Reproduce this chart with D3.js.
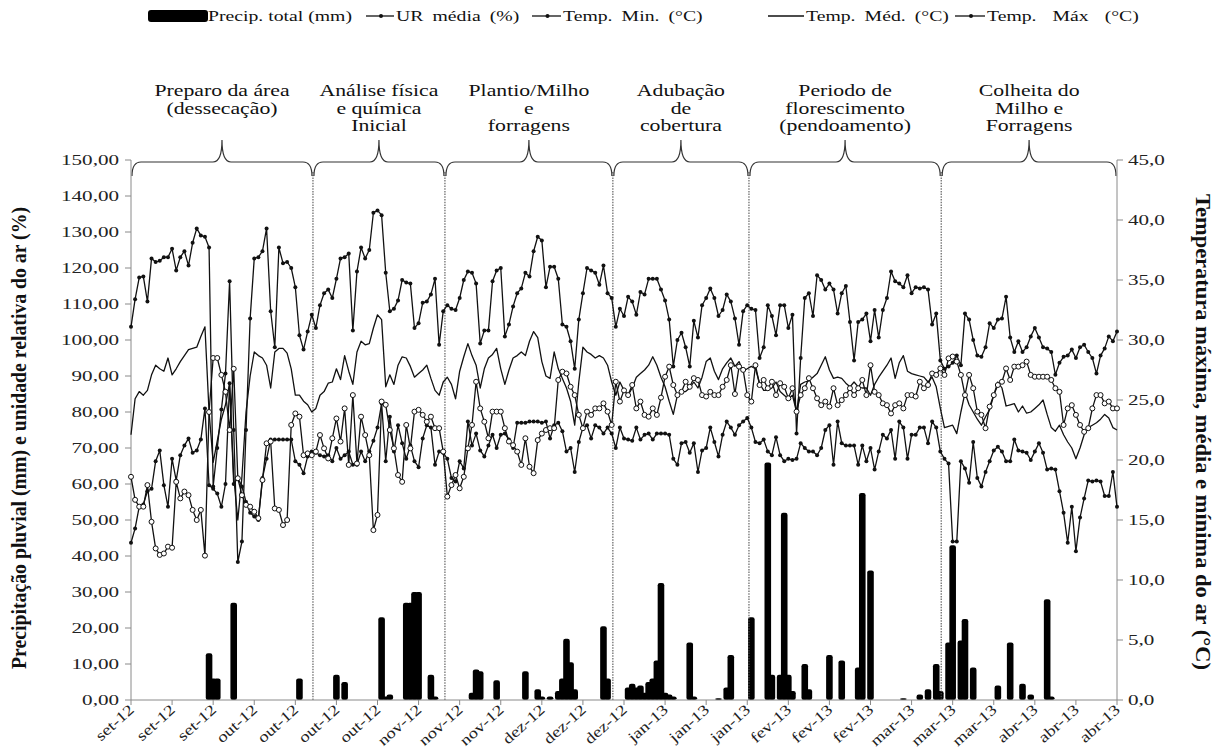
<!DOCTYPE html>
<html><head><meta charset="utf-8">
<script src="https://cdn.jsdelivr.net/npm/d3@7"></script>
<style>body{margin:0;background:#fff}svg{display:block}</style>
</head><body>
<svg id="chart" width="1220" height="751"></svg>
<script>
// ---------------- DATA ----------------
const startDate = "2012-09-01";
const nDays = 241;
const xTickLabels = ["set-12","set-12","set-12","out-12","out-12","out-12","out-12","nov-12","nov-12","nov-12",
  "dez-12","dez-12","dez-12","jan-13","jan-13","jan-13","fev-13","fev-13","fev-13","mar-13","mar-13","mar-13",
  "abr-13","abr-13","abr-13"];
const leftTicks = [0,10,20,30,40,50,60,70,80,90,100,110,120,130,140,150];
const rightTicks = [0,5,10,15,20,25,30,35,40,45];

const precip = [
0,0,0,0,0,0,0,0,0,0, 0,0,0,0,0,0,0,0,0,13, 6,6,0,0,0,27,0,0,0,0, 0,0,0,0,0,0,0,0,0,0,
0,6,0,0,0,0,0,0,0,0, 7,0,5,0,0,0,0,0,0,0, 0,23,1,1.5,0,0,0,27,27,30, 30,0,0,7,1,0,0,0,0,0,
0,0,0,2,8.5,8,0,0,0,5.5, 0,0,0,0,0,0,8,0,0,3, 1,0,1,0,2.5,6,17,10.5,3,0, 0,0,0,0,0,20.5,6,0,0,0,
0,3.5,4.5,3.5,4,2,5,6,11,32.5, 2,1.5,1,0,0,0,16,1,0,0, 0,0,0,0.5,0,3.5,12.5,0,0,0, 0,23,0,0,0,66,7,0,7,52,
7,2.5,0,0,10,3,0,0,0,0, 12.5,0,0,11,0,0,0,9,57.5,0, 36,0,0,0,0,0,0,0,0.5,0, 0,0,1.5,0,3,0,10,2.5,0,16,
43,0,16.5,22.5,0,9,0,0,0,0, 0,4,0,0,16,0,0,4.5,0,1.5, 0,0,0,28,1,0,0,0,0,0, 0,0,0,0,0,0,0,0,0,0, 0];

const urMedia = [
62,55.6,53.7,53.7,59.7,49.5,42.1,40.3,40.7,42.6, 42.3,60.6,56,57.9,56.9,52.8,50,52.8,40.1,80,
95,95,90.3,85.6,75,92,61.6,56.9,54.2,53.7, 52.3,50.5,61.1,71.3,71.8,53.2,52.8,48.6,50,76.4,
79.6,78.7,68,68.5,68,69,73.6,69.9,67.1,72.7, 78.2,71.8,81,65.3,84.7,65.7,78.7,73.6,68,47.2,
51.4,82.9,82,75,69.9,62.5,60.6,76.4,69.9,80.1, 80.6,79.2,77.3,78.7,75.5,75.5,69,56.5,59.7,62.5,
58.8,62,69.9,76.4,88.4,81,77.3,72.7,80.1,80.1, 80.1,75.5,71.8,70.8,69,65.3,72.7,64.8,63,72.2,
74,75,75.5,75.5,88.9,91.2,90.7,87,84.7,79.2, 75.5,80.1,79.2,81,81,82.4,80.1,76.4,88.4,82.9,
86,84.7,87.5,81,82.9,79.2,78.7,81,79.2,84, 89.8,92.6,87.5,84.7,85.6,88.4,87,89.4,88.9,84.7,
84.3,85.6,84.7,84.7,87,88.9,93,85,92.6,91.7, 84.7,82.9,93,87.5,88.9,86.6,88.4,84.7,88,87,
83.8,86.6,80.1,84.7,86.6,89.4,86.6,83.8,81.9,82.9, 81.5,86.6,81.9,83.3,84.7,86.6,84.7,86.6,88.9,84.7,
93,85.6,84.7,82.4,81.9,79.6,81.9,82.4,81,84.7, 84.7,84.3,88.4,86.6,87.5,90.7,90.3,92.1,90.3,94.9,
95.4,94,90.3,84.7,90.3,86.6,80.1,79.2,75.5,81.5, 84.7,87.5,88.4,92.1,88.9,92.6,92.6,93,94,90.3,
89.8,89.8,89.8,89.8,88.9,86.6,85.6,76.4,81,81.9, 79.2,76.4,74.5,75.5,81,84.7,84.7,82.4,82.9,81, 81];

const tempMin = [
13.1,14.3,16.1,16.3,17.4,17.6,19.9,20.8,17.9,16.1, 20.1,18.3,20.4,21.2,21.8,20.6,20.8,21.7,24.3,17.9,
17.6,17.2,16.1,18.0,26.4,18.0,18.5,17.8,16.5,15.6, 15.3,15.0,18.5,20.1,21.7,21.7,21.7,21.7,21.7,21.7,
19.9,19.6,18.9,20.3,20.7,20.6,20.4,20.3,20.4,19.9, 21.0,20.1,20.4,20.7,19.6,19.6,20.7,19.9,20.7,21.6,
22.7,24.7,19.9,23.6,20.7,22.9,21.4,20.1,21.2,19.9, 19.4,21.8,22.9,22.7,19.6,20.7,20.6,20.1,18.5,18.2,
19.9,19.3,23.2,21.2,22.2,20.8,20.3,21.2,22.1,21.0, 22.1,22.2,21.7,21.0,23.1,23.1,23.1,23.2,23.2,23.2,
23.1,23.2,21.8,22.9,23.1,22.4,20.7,21.0,19.0,21.5, 22.7,22.9,21.8,22.9,22.7,22.2,22.7,22.2,21.0,22.7,
21.8,21.7,21.6,22.7,21.7,22.1,22.2,21.7,22.2,22.2, 22.2,22.1,20.1,19.6,21.4,21.5,20.6,21.4,19.0,20.8,
21.0,22.7,21.5,20.3,22.1,23.2,22.7,22.1,22.9,23.2, 23.5,22.7,21.5,21.4,21.7,20.7,20.4,21.9,20.4,19.9,
20.1,20.0,20.1,21.4,21.0,20.7,20.7,20.4,21.0,22.5, 22.9,19.6,23.2,21.4,21.2,21.2,21.2,19.6,21.2,19.9,
21.0,19.2,20.7,22.1,21.8,22.5,20.1,23.2,22.7,20.1, 22.1,22.1,22.7,22.7,21.4,23.2,22.7,20.7,20.1,19.7,
13.2,13.2,19.9,19.3,18.1,21.5,18.5,17.8,19.0,19.9, 20.8,21.1,20.7,19.9,19.9,21.7,20.8,20.7,20.6,20.0,
20.7,21.4,20.6,19.2,19.3,19.2,17.4,15.6,13.1,16.1, 12.4,15.2,16.8,18.3,18.2,18.3,18.2,17.0,17.0,19.0, 16.1];

const tempMed = [
22.1,25.1,25.7,25.4,25.8,27.1,27.9,27.6,27.4,28.5, 27.1,27.6,28.2,28.7,29.2,29.3,29.4,30.3,31.1,24.0,
19.8,21.6,23.4,24.6,26.4,18.6,15.0,18.6,24.0,27.0, 29.0,28.7,28.5,27.9,26.0,29.0,29.3,29.3,28.9,27.6,
25.4,25.4,24.9,24.6,24.0,24.3,25.4,25.7,26.4,26.5, 27.6,26.7,28.7,27.4,26.3,29.0,29.9,29.6,29.7,31.0,
32.1,31.7,26.1,27.1,26.3,27.9,28.6,28.5,27.8,26.9, 27.2,27.5,27.9,26.8,25.8,25.4,26.5,26.9,26.3,25.1,
27.4,28.6,29.7,28.7,27.9,26.0,27.6,28.5,28.8,29.3, 27.6,26.3,27.5,28.5,28.7,29.0,28.7,29.9,30.7,30.2,
28.2,27.0,26.8,29.0,27.6,26.8,26.0,24.9,22.9,26.5, 29.4,29.0,28.8,28.5,28.7,28.5,27.9,26.5,25.4,26.5,
25.8,25.4,26.0,26.9,27.2,27.5,27.9,28.6,27.9,26.9, 26.1,24.9,23.8,25.4,25.7,25.7,26.0,26.5,26.0,26.9,
28.2,28.5,27.4,26.7,27.6,28.1,28.5,27.8,28.2,27.4, 27.6,27.8,27.6,26.4,25.8,25.8,26.0,26.5,25.7,25.4,
25.1,25.4,24.0,26.3,26.5,26.6,26.9,27.2,27.9,28.6, 27.5,26.8,26.9,26.8,26.4,26.1,26.5,26.1,26.0,26.0,
25.4,26.3,26.9,27.4,27.9,28.5,26.8,28.1,28.7,27.4, 27.2,27.1,27.0,26.9,26.5,26.9,26.1,24.3,22.7,22.8,
22.9,22.2,24.0,25.6,24.6,24.0,23.4,22.9,23.6,24.2, 25.4,26.5,26.0,24.5,24.6,24.7,24.0,24.5,23.9,24.0,
24.3,24.6,25.0,23.8,22.7,22.4,22.9,22.1,21.5,21.0, 20.1,21.0,22.1,22.7,22.9,23.1,23.4,23.8,23.5,22.7, 22.5];

const tempMax = [
31.1,33.4,35.2,35.3,33.2,36.8,36.5,36.6,36.9,36.9, 37.6,35.8,36.9,37.4,36.2,38.1,39.3,38.7,38.6,37.7,
17.8,21.0,24.2,27.2,34.9,22.5,11.5,13.2,22.5,31.8, 36.8,36.9,37.4,39.3,32.4,29.4,37.7,36.4,36.5,36.0,
34.4,30.4,29.2,30.7,32.1,31.0,32.9,33.9,34.2,33.5, 35.1,36.8,36.9,37.2,30.8,35.7,37.7,36.8,37.5,40.6,
40.8,40.4,35.6,32.4,32.6,33.3,35.0,34.8,34.7,31.0, 31.4,33.1,33.2,33.8,35.1,29.6,32.4,32.9,32.6,32.5,
33.5,35.0,35.7,35.6,34.7,29.7,30.8,30.8,34.9,35.8, 36.0,30.3,31.3,32.8,33.9,34.3,35.6,35.3,37.4,38.6,
38.3,34.4,36.1,36.1,35.1,31.3,31.1,29.9,27.6,31.7, 33.9,36.0,35.8,35.6,34.6,36.2,33.9,33.5,31.1,32.6,
32.0,33.6,33.2,32.1,34.0,33.8,35.1,35.1,35.1,34.2, 33.3,31.7,27.8,30.0,30.6,29.4,27.8,31.6,30.2,32.9,
33.5,34.3,33.5,32.0,32.5,33.8,33.2,31.8,29.6,32.4, 32.9,32.6,32.5,28.5,29.4,32.9,32.0,30.4,32.9,32.9,
31.0,32.1,22.2,28.5,33.5,33.9,32.0,35.4,35.0,34.2, 34.7,34.2,32.2,33.9,34.5,31.5,28.3,31.5,31.7,32.2,
29.9,32.5,30.2,32.5,33.5,35.7,34.9,34.7,34.4,35.4, 33.9,34.4,34.3,34.4,34.2,31.3,32.2,28.3,27.6,27.8,
28.1,28.7,27.9,32.2,31.7,30.0,28.7,28.6,29.4,31.4, 31.0,31.7,31.8,33.6,30.2,29.0,29.9,29.0,29.4,30.3,
31.0,30.2,29.4,29.3,29.0,27.1,28.1,28.6,28.7,29.2, 28.5,29.4,29.6,29.0,28.5,27.2,28.7,29.3,30.3,29.9, 30.7];

// growth phases: label lines and boundaries (date-times)
const phaseLabels = [
  ["Preparo da área","(dessecação)"],
  ["Análise  física","e química","Inicial"],
  ["Plantio/Milho","e","forragens"],
  ["Adubação","de","cobertura"],
  ["Periodo de","florescimento","(pendoamento)"],
  ["Colheita  do","Milho  e","Forragens"]
];
const phaseBounds = ["2012-09-01T00:00Z","2012-10-15T07:00Z","2012-11-16T10:00Z","2012-12-27T07:00Z",
  "2013-01-29T10:00Z","2013-03-17T05:00Z","2013-04-29T00:00Z"];

const legendItems = [
  {key:"precip", label:"Precip. total (mm)"},
  {key:"ur", label:"UR média (%)"},
  {key:"tmin", label:"Temp. Min. (°C)"},
  {key:"tmed", label:"Temp. Méd. (°C)"},
  {key:"tmax", label:"Temp. Máx (°C)"}
];

// ---------------- CHART ----------------
const FONT = "'Liberation Serif','Times New Roman',serif";
const SX = 1.36; // horizontal stretch of the original picture
const svg = d3.select("#chart");
svg.append("rect").attr("width",1220).attr("height",751).attr("fill","#fff");

const L = 131, R = 1117, T = 160, B = 700;
const start = d3.isoParse(startDate + "T00:00:00Z");
const days = d3.range(nDays).map(i => d3.utcDay.offset(start, i));
const x = d3.scaleUtc().domain([days[0], days[nDays-1]]).range([L, R]);
const yL = d3.scaleLinear().domain([0,150]).range([B, T]);
const yR = d3.scaleLinear().domain([0,45]).range([B, T]);

const loc = d3.formatLocale({decimal:",", thousands:".", grouping:[3], currency:["",""]});
const fmtL = loc.format(".2f"), fmtR = loc.format(".1f");
const axisColor = "#8a8a8a";

// precipitation bars
const barW = 6.6;
svg.append("g").selectAll("rect").data(days.map((d,i)=>({d, v:precip[i]})).filter(o=>o.v>0))
  .join("rect")
  .attr("x", o => x(o.d) - barW/2).attr("width", barW)
  .attr("y", o => yL(o.v)).attr("height", o => B - yL(o.v))
  .attr("rx", 2.2).attr("fill", "#000");

// phase dividers
const pb = phaseBounds.map(s => d3.isoParse(s));
svg.append("g").selectAll("line").data(pb.slice(1,-1)).join("line")
  .attr("x1", d => x(d)).attr("x2", d => x(d)).attr("y1", 172).attr("y2", B)
  .attr("stroke", "#555").attr("stroke-width", 1.1).attr("stroke-dasharray", "1.5,1.2");

// braces
function bracePath(x1, x2, yb, tipY) {
  const m = (x1 + x2) / 2, r = 9;
  return `M${x1},${yb+14} Q${x1},${yb} ${x1+r},${yb} L${m-r},${yb} Q${m},${yb} ${m},${tipY}` +
         ` Q${m},${yb} ${m+r},${yb} L${x2-r},${yb} Q${x2},${yb} ${x2},${yb+14}`;
}
const braceG = svg.append("g");
for (let i = 0; i < phaseLabels.length; i++) {
  const x1 = x(pb[i]), x2 = x(pb[i+1]);
  braceG.append("path").attr("d", bracePath(x1+1, x2-1, 162, 140))
    .attr("fill","none").attr("stroke","#333").attr("stroke-width",1.2);
  const cx = (x1 + x2) / 2;
  phaseLabels[i].forEach((t, j) => {
    braceG.append("text").attr("transform", `translate(${cx},${96 + j*17.5}) scale(${SX},1)`)
      .attr("text-anchor","middle").attr("font-family",FONT).attr("font-size",16).attr("fill","#111").text(t);
  });
}

// axes
const gx = svg.append("g").attr("transform", `translate(0,${B})`);
gx.append("line").attr("x1",L).attr("x2",R).attr("stroke",axisColor);
const tickDates = xTickLabels.map((_, i) => d3.utcDay.offset(start, i*10));
gx.selectAll("g.t").data(tickDates).join("g").attr("class","t")
  .attr("transform", d => `translate(${x(d)},0)`)
  .each(function(d, i) {
    const g = d3.select(this);
    g.append("line").attr("y2", 5).attr("stroke", axisColor);
    g.append("text").attr("transform","translate(4,11) rotate(-42) scale(1.25,1)")
      .attr("text-anchor","end").attr("font-family",FONT).attr("font-size",15).attr("fill","#222")
      .text(xTickLabels[i]);
  });

const gl = svg.append("g").attr("transform", `translate(${L},0)`);
gl.append("line").attr("y1",T).attr("y2",B).attr("stroke",axisColor);
gl.selectAll("g.t").data(leftTicks).join("g").attr("class","t")
  .attr("transform", d => `translate(0,${yL(d)})`)
  .each(function(d) {
    const g = d3.select(this);
    g.append("line").attr("x1",-6).attr("stroke",axisColor);
    g.append("text").attr("transform",`translate(-12,5) scale(${SX},1)`).attr("text-anchor","end")
      .attr("font-family",FONT).attr("font-size",15.5).attr("fill","#222").text(fmtL(d));
  });

const gr = svg.append("g").attr("transform", `translate(${R},0)`);
gr.append("line").attr("y1",T).attr("y2",B).attr("stroke",axisColor);
gr.selectAll("g.t").data(rightTicks).join("g").attr("class","t")
  .attr("transform", d => `translate(0,${yR(d)})`)
  .each(function(d) {
    const g = d3.select(this);
    g.append("line").attr("x2",6).attr("stroke",axisColor);
    g.append("text").attr("transform",`translate(11,5) scale(${SX},1)`).attr("text-anchor","start")
      .attr("font-family",FONT).attr("font-size",15.5).attr("fill","#222").text(fmtR(d));
  });

// axis titles
svg.append("text").attr("transform","translate(26,438) scale(1.25,1) rotate(-90)")
  .attr("text-anchor","middle").attr("font-family",FONT).attr("font-size",17).attr("font-weight","bold")
  .attr("fill","#111").attr("textLength",462).attr("lengthAdjust","spacingAndGlyphs")
  .text("Precipitação pluvial (mm) e unidade relativa do ar (%)");
svg.append("text").attr("transform","translate(1196,432) scale(1.25,1) rotate(90)")
  .attr("text-anchor","middle").attr("font-family",FONT).attr("font-size",17).attr("font-weight","bold")
  .attr("fill","#111").attr("textLength",476).attr("lengthAdjust","spacingAndGlyphs")
  .text("Temperatura máxima, média e mínima do ar (°C)");

// lines
const lineL = d3.line().x((d,i)=>x(days[i])).y(d=>yL(d));
const lineR = d3.line().x((d,i)=>x(days[i])).y(d=>yR(d));
const lg = svg.append("g").attr("fill","none").attr("stroke","#111").attr("stroke-width",1.3).attr("stroke-linejoin","round");
lg.append("path").attr("d", lineR(tempMed));
lg.append("path").attr("d", lineR(tempMin));
lg.append("path").attr("d", lineR(tempMax));
lg.append("path").attr("d", lineL(urMedia));

function dots(arr, scale) {
  svg.append("g").selectAll("circle").data(arr).join("circle")
    .attr("cx",(d,i)=>x(days[i])).attr("cy",d=>scale(d)).attr("r",2).attr("fill","#111");
}
dots(tempMin, yR); dots(tempMax, yR);
svg.append("g").selectAll("circle").data(urMedia).join("circle")
  .attr("cx",(d,i)=>x(days[i])).attr("cy",d=>yL(d)).attr("r",2.5)
  .attr("fill","#fff").attr("stroke","#111").attr("stroke-width",1);

// legend  [line start, text start, extra word spacing]
const legPos = {precip:[148,208,0], ur:[366,396,3], tmin:[532,563,3], tmed:[768,806,3], tmax:[955,987,8]};
const legY = 16;
const leg = svg.append("g");
legendItems.forEach(it => {
  const [a, b, ws] = legPos[it.key];
  if (it.key === "precip") {
    leg.append("rect").attr("x",a).attr("y",legY-6).attr("width",b-a).attr("height",12).attr("rx",3).attr("fill","#000");
  } else {
    leg.append("line").attr("x1",a).attr("x2",b-2).attr("y1",legY).attr("y2",legY).attr("stroke","#111").attr("stroke-width",1.3);
    if (it.key !== "tmed") leg.append("circle").attr("cx",(a+b)/2).attr("cy",legY).attr("r",2).attr("fill","#111");
  }
  leg.append("text").attr("transform",`translate(${b},${legY+5}) scale(1.38,1)`)
    .attr("font-family",FONT).attr("font-size",14.3).attr("word-spacing",ws).attr("fill","#111").text(it.label);
});
</script>
</body></html>
